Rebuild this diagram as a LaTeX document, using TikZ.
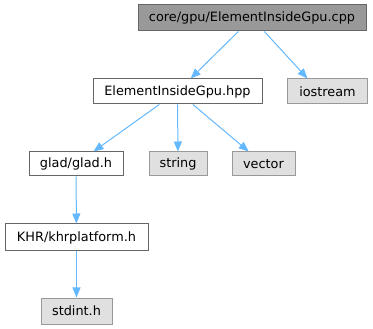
\documentclass[tikz,border=0pt]{standalone}
\usepackage{fontspec}
\setmainfont{DejaVu Sans}
\usetikzlibrary{arrows.meta}
\definecolor{edgeblue}{HTML}{63B8FF}
\definecolor{rootfill}{HTML}{999999}
\definecolor{sysfill}{HTML}{E0E0E0}
\definecolor{darkline}{HTML}{666666}
\definecolor{midline}{HTML}{999999}
\begin{document}
\begin{tikzpicture}[x=1pt,y=-1pt,
  box/.style={draw=darkline, line width=1pt, fill=white, inner sep=0pt, anchor=center,
    font=\fontsize{12.85}{15}\selectfont},
  rootbox/.style={box, fill=rootfill},
  sysbox/.style={box, draw=midline, fill=sysfill},
  inc/.style={draw=edgeblue, line width=1pt, -{Triangle[length=10pt,width=8pt]}}]
\useasboundingbox (0,0) rectangle (373,329);
% files, each sized to its box
\node[rootbox, minimum width=228pt, minimum height=26pt] (cpp) at (252,18) {core/gpu/ElementInsideGpu.cpp};
\node[box, minimum width=169pt, minimum height=25pt] (hpp) at (177.5,91.5) {ElementInsideGpu.hpp};
\node[sysbox, minimum width=80pt, minimum height=25pt] (iostream) at (327.5,91.5) {iostream};
\node[box, minimum width=94pt, minimum height=24pt] (glad) at (76,164) {glad/glad.h};
\node[sysbox, minimum width=58pt, minimum height=24pt] (string) at (178,164) {string};
\node[sysbox, minimum width=63pt, minimum height=24pt] (vector) at (263.5,164) {vector};
\node[box, minimum width=143pt, minimum height=27pt] (khr) at (76.5,237.5) {KHR/khrplatform.h};
\node[sysbox, minimum width=71pt, minimum height=26pt] (stdint) at (76.5,311) {stdint.h};
% include relations
\draw[inc] (cpp) -- (hpp);
\draw[inc] (cpp) -- (iostream.147);
\draw[inc] (hpp) -- (glad);
\draw[inc] (hpp) -- (string);
\draw[inc] (hpp) -- (vector);
\draw[inc] (glad) -- (khr);
\draw[inc] (khr) -- (stdint);
\end{tikzpicture}
\end{document}
